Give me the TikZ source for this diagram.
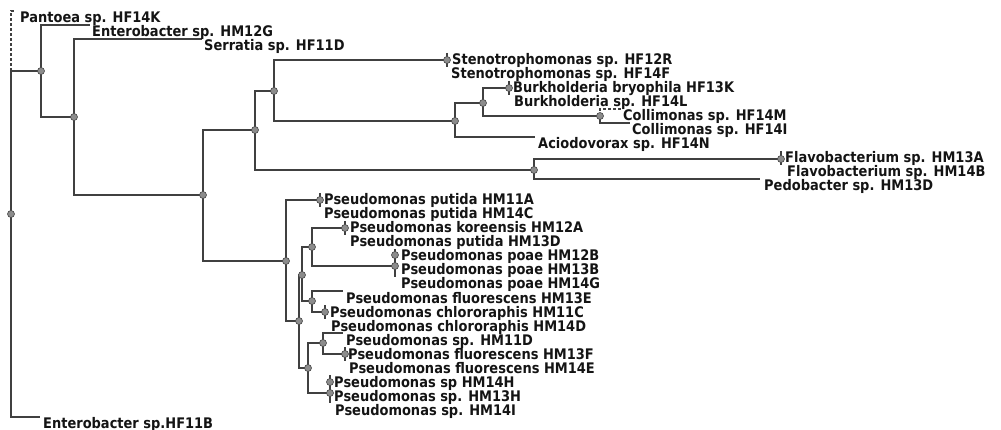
\documentclass[tikz,border=0pt]{standalone}
\usepackage{fontspec}
\setmainfont{DejaVu Sans}
\newfontfamily\labfont{DejaVu Sans}[FakeStretch=0.89]
\begin{document}
\begin{tikzpicture}[x=1pt,y=-1pt,
  br/.style={line width=1.4pt, draw=black!75},
  dbr/.style={br, line width=1.1pt, dash pattern=on 3pt off 2pt},
  nd/.style={circle, fill=black!45, draw=black!72, line width=0.6pt, inner sep=0pt, minimum size=7pt},
  lab/.style={anchor=base west, inner sep=0pt, text=black!92, font=\labfont\bfseries\fontsize{14.6}{14.6}\selectfont},
]
\useasboundingbox (0,0) rectangle (1001,430);
% internal nodes
\coordinate (r) at (11,214);
\coordinate (n1) at (41,71);
\coordinate (n2) at (74,117);
\coordinate (n3) at (203,195);
\coordinate (n4) at (255,130);
\coordinate (n5) at (274,91);
\coordinate (steno) at (447,60);
\coordinate (n6) at (455,121);
\coordinate (n7) at (483,103);
\coordinate (burk) at (509,88);
\coordinate (colli) at (600,116);
\coordinate (n10) at (534,170);
\coordinate (flavo) at (781,159);
\coordinate (P) at (286,261);
\coordinate (put) at (320,200);
\coordinate (Q) at (299,321);
\coordinate (Q1) at (302,275);
\coordinate (K) at (312,247);
\coordinate (kor) at (345,228);
\coordinate (poae) at (395,266);
\coordinate (poaet) at (395,255);
\coordinate (F) at (312,301);
\coordinate (chl) at (325,312);
\coordinate (R) at (308,368);
\coordinate (S) at (323,343);
\coordinate (flu) at (345,354);
\coordinate (T) at (330,393);
\coordinate (Tin) at (330,382);
% leaf ends
\coordinate (e0) at (14,11);
\coordinate (e1) at (90,25);
\coordinate (e2) at (202,39);
\coordinate (e3) at (447,53);
\coordinate (e4) at (447,67);
\coordinate (e5) at (509,81);
\coordinate (e6) at (509,95);
\coordinate (e7) at (621,109);
\coordinate (e8) at (630,123);
\coordinate (e9) at (535,137);
\coordinate (e10) at (781,151);
\coordinate (e11) at (781,165);
\coordinate (e12) at (760,179);
\coordinate (e13) at (320,193);
\coordinate (e14) at (320,207);
\coordinate (e15) at (345,221);
\coordinate (e16) at (345,235);
\coordinate (e17) at (395,249);
\coordinate (e18) at (395,263);
\coordinate (e19) at (395,277);
\coordinate (e20) at (343,291);
\coordinate (e21) at (325,305);
\coordinate (e22) at (325,319);
\coordinate (e23) at (343,333);
\coordinate (e24) at (345,347);
\coordinate (e25) at (345,361);
\coordinate (e26) at (330,375);
\coordinate (e27) at (330,389);
\coordinate (e28) at (330,403);
\coordinate (e29) at (40,417);
% branches
\draw[br] (r) |- (e29);
\draw[br] (r) |- (n1);
\draw[dbr] (r |- n1) |- (e0);
\draw[br] (n1) |- (e1);
\draw[br] (n1) |- (n2);
\draw[br] (n2) |- (e2);
\draw[br] (n2) |- (n3);
\draw[br] (n3) |- (n4);
\draw[br] (n3) |- (P);
\draw[br] (n4) |- (n5);
\draw[br] (n4) |- (n10);
\draw[br] (n5) |- (steno);
\draw[br] (n5) |- (n6);
\draw[br] (e3) -- (e4);
\draw[br] (n6) |- (n7);
\draw[br] (n6) |- (e9);
\draw[br] (n7) |- (burk);
\draw[br] (n7) |- (colli);
\draw[br] (e5) -- (e6);
\draw[dbr] (colli) |- (e7);
\draw[br] (colli) |- (e8);
\draw[br] (n10) |- (flavo);
\draw[br] (n10) |- (e12);
\draw[br] (e10) -- (e11);
\draw[br] (P) |- (put);
\draw[br] (P) |- (Q);
\draw[br] (e13) -- (e14);
\draw[br] (Q) |- (Q1);
\draw[br] (Q) |- (R);
\draw[br] (Q1) |- (K);
\draw[br] (Q1) |- (F);
\draw[br] (K) |- (kor);
\draw[br] (K) |- (poae);
\draw[br] (e15) -- (e16);
\draw[br] (e17) -- (e19);
\draw[br] (F) |- (e20);
\draw[br] (F) |- (chl);
\draw[br] (e21) -- (e22);
\draw[br] (R) |- (S);
\draw[br] (R) |- (T);
\draw[br] (S) |- (e23);
\draw[br] (S) |- (flu);
\draw[br] (e24) -- (e25);
\draw[br] (e26) -- (e28);
% node markers
\foreach \c in {r,n1,n2,n3,n4,n5,steno,n6,n7,burk,colli,n10,flavo,P,put,Q,Q1,K,kor,poae,poaet,F,chl,R,S,flu,T,Tin}
  \node[nd] (m-\c) at (\c) {};
% labels
\node[lab] (t0) at (20,23) {Pantoea sp. HF14K};
\node[lab] (t1) at (92,37) {Enterobacter sp. HM12G};
\node[lab] (t2) at (204,51) {Serratia sp. HF11D};
\node[lab] (t3) at (452,65) {Stenotrophomonas sp. HF12R};
\node[lab] (t4) at (451,79) {Stenotrophomonas sp. HF14F};
\node[lab] (t5) at (513,93) {Burkholderia bryophila HF13K};
\node[lab] (t6) at (514,107) {Burkholderia sp. HF14L};
\node[lab] (t7) at (623,121) {Collimonas sp. HF14M};
\node[lab] (t8) at (632,135) {Collimonas sp. HF14I};
\node[lab] (t9) at (538,149) {Aciodovorax sp. HF14N};
\node[lab] (t10) at (785,163) {Flavobacterium sp. HM13A};
\node[lab] (t11) at (787,177) {Flavobacterium sp. HM14B};
\node[lab] (t12) at (764,191) {Pedobacter sp. HM13D};
\node[lab] (t13) at (324,205) {Pseudomonas putida HM11A};
\node[lab] (t14) at (324,219) {Pseudomonas putida HM14C};
\node[lab] (t15) at (350,233) {Pseudomonas koreensis HM12A};
\node[lab] (t16) at (350,247) {Pseudomonas putida HM13D};
\node[lab] (t17) at (401,261) {Pseudomonas poae HM12B};
\node[lab] (t18) at (401,275) {Pseudomonas poae HM13B};
\node[lab] (t19) at (401,289) {Pseudomonas poae HM14G};
\node[lab] (t20) at (346,303) {Pseudomonas fluorescens HM13E};
\node[lab] (t21) at (330,317) {Pseudomonas chlororaphis HM11C};
\node[lab] (t22) at (331,331) {Pseudomonas chlororaphis HM14D};
\node[lab] (t23) at (346,345) {Pseudomonas sp. HM11D};
\node[lab] (t24) at (348,359) {Pseudomonas fluorescens HM13F};
\node[lab] (t25) at (349,373) {Pseudomonas fluorescens HM14E};
\node[lab] (t26) at (334,387) {Pseudomonas sp HM14H};
\node[lab] (t27) at (334,401) {Pseudomonas sp. HM13H};
\node[lab] (t28) at (335,415) {Pseudomonas sp. HM14I};
\node[lab] (t29) at (43,428) {Enterobacter sp.HF11B};
\end{tikzpicture}
\end{document}
